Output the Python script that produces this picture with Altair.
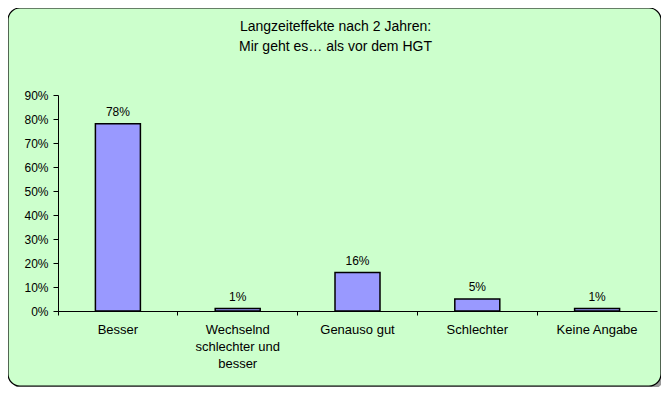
import altair as alt
import pandas as pd

categories = ["Besser", "Wechselnd|schlechter und|besser", "Genauso gut", "Schlechter", "Keine Angabe"]
values = [0.78, 0.01, 0.16, 0.05, 0.01]
y_ticks = [0, 0.1, 0.2, 0.3, 0.4, 0.5, 0.6, 0.7, 0.8, 0.9]
title_lines = ["Langzeiteffekte nach 2 Jahren:", "Mir geht es… als vor dem HGT"]

df = pd.DataFrame({"cat": categories, "val": values})
one = pd.DataFrame({"t": ["|".join(title_lines)]})
FONT = "Liberation Sans"

x_enc = alt.X("cat:N", sort=categories, title=None,
              scale=alt.Scale(paddingInner=0, paddingOuter=0),
              axis=alt.Axis(labelExpr="split(datum.label, '|')", labelAngle=0,
                            bandPosition=0, ticks=True, tickSize=4, labelPadding=8,
                            domainColor="black", tickColor="black", labelColor="black",
                            labelFont=FONT, labelFontSize=13, labelLineHeight=17,
                            labelBaseline="top", zindex=2))
y_enc = alt.Y("val:Q", title=None,
              scale=alt.Scale(domain=[0, 0.9], nice=False),
              axis=alt.Axis(values=y_ticks, format=".0%", grid=False, tickSize=5,
                            labelPadding=5, labelOverlap=False, domainColor="black",
                            tickColor="black", labelColor="black", labelFont=FONT,
                            labelFontSize=12, zindex=2))

shadow = alt.Chart(one).mark_rect(cornerRadius=12, fill="#999999").encode(
    x=alt.value(-47), x2=alt.value(606), y=alt.value(-84), y2=alt.value(294))
frame = alt.Chart(one).mark_rect(cornerRadius=12, fill="#CCFFCC", stroke="black",
                                 strokeWidth=1.2).encode(
    x=alt.value(-50), x2=alt.value(603), y=alt.value(-87), y2=alt.value(291))

title = alt.Chart(one).transform_calculate(lines="split(datum.t, '|')").mark_text(
    font=FONT, fontSize=14, fontWeight="normal", color="black",
    lineHeight=20, baseline="alphabetic", align="center").encode(
    x=alt.value(277.5), y=alt.value(-64), text="lines:N")

bars = alt.Chart(df).mark_bar(size=45, color="#9999FF", stroke="black",
                              strokeWidth=1.5).encode(x=x_enc, y=y_enc)
labels = alt.Chart(df).mark_text(dy=-12, font=FONT, fontSize=12, fontWeight="normal",
                                 color="black").encode(
    x=x_enc, y=y_enc, text=alt.Text("val:Q", format=".0%"))

chart = alt.layer(shadow, frame, title, bars, labels).properties(
    width=599, height=216,
    autosize=alt.AutoSizeParams(type="none"),
    padding={"left": 50, "top": 87, "right": 4, "bottom": 76},
    background="white",
).configure_view(stroke=None)

chart.save("out.html", embed_options={"renderer": "svg", "actions": False})
